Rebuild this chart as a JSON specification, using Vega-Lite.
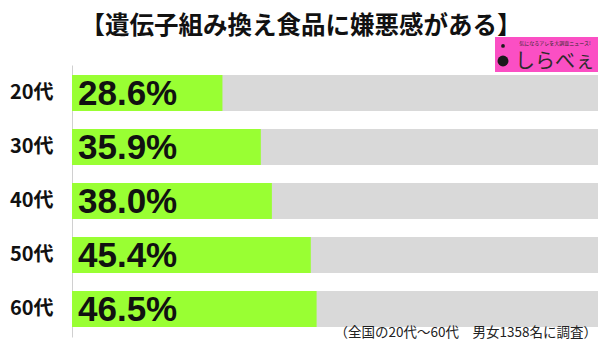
{
  "$schema": "https://vega.github.io/schema/vega-lite/v6.json",
  "width": 526,
  "height": 272,
  "autosize": "none",
  "padding": {"left": 72, "top": 65, "right": 2, "bottom": 6},
  "background": "white",
  "config": {"view": {"stroke": null}},
  "title": {
    "text": "【遺伝子組み換え食品に嫌悪感がある】",
    "font": "Noto Sans CJK JP",
    "fontSize": 24.5,
    "fontWeight": "bold",
    "color": "#111111",
    "anchor": "middle",
    "frame": "group",
    "baseline": "bottom",
    "dx": -34,
    "dy": 26,
    "offset": 0
  },
  "datasets": {
    "survey": [
      {"age": "20代", "value": 0.286},
      {"age": "30代", "value": 0.359},
      {"age": "40代", "value": 0.380},
      {"age": "50代", "value": 0.454},
      {"age": "60代", "value": 0.465}
    ]
  },
  "layer": [
    {
      "data": {"name": "survey"},
      "layer": [
        {
          "mark": {"type": "bar", "color": "#d9d9d9"},
          "encoding": {
            "y": {
              "field": "age", "type": "nominal", "sort": null,
              "scale": {"paddingInner": 0.3333, "paddingOuter": 0.185},
              "axis": {
                "title": null, "ticks": false, "labelPadding": 19,
                "labelFont": "Noto Sans CJK JP", "labelFontSize": 20, "labelFontWeight": "bold",
                "labelColor": "#111111", "domainColor": "#d0d0d0", "domainWidth": 1,
                "labelBaseline": "middle"
              }
            },
            "x": {"datum": 1, "type": "quantitative", "scale": {"domain": [0, 1], "nice": false}, "axis": null}
          }
        },
        {
          "mark": {"type": "bar", "color": "#99ff33"},
          "encoding": {
            "y": {"field": "age", "type": "nominal", "sort": null},
            "x": {"field": "value", "type": "quantitative"}
          }
        },
        {
          "mark": {"type": "text", "align": "left", "baseline": "middle", "dx": 6, "dy": 1, "font": "Liberation Sans", "fontWeight": "bold", "fontSize": 35, "color": "#111111"},
          "encoding": {
            "y": {"field": "age", "type": "nominal", "sort": null},
            "x": {"datum": 0, "type": "quantitative"},
            "text": {"field": "value", "type": "quantitative", "format": ".1%"}
          }
        }
      ]
    },
    {
      "data": {"values": [{"logo": "しらべぇ", "tagline": "気になるアレを大調査ニュース!", "note": "（全国の20代～60代　男女1358名に調査）"}]},
      "layer": [
        {
          "mark": {"type": "rect", "color": "#fb4fc4"},
          "encoding": {
            "x": {"datum": 0.8042, "type": "quantitative"},
            "x2": {"datum": 1},
            "y": {"datum": 0.9743, "type": "quantitative", "scale": {"domain": [0, 1], "nice": false, "zero": false}, "axis": null},
            "y2": {"datum": 1.1029}
          }
        },
        {
          "mark": {"type": "point", "filled": true, "color": "#1a1a1a", "opacity": 1, "size": 120},
          "encoding": {
            "x": {"datum": 0.8194, "type": "quantitative"},
            "y": {"datum": 1.0147, "type": "quantitative"}
          }
        },
        {
          "mark": {"type": "point", "filled": true, "color": "#1a1a1a", "opacity": 1, "size": 14},
          "encoding": {
            "x": {"datum": 0.8194, "type": "quantitative"},
            "y": {"datum": 1.0699, "type": "quantitative"}
          }
        },
        {
          "mark": {"type": "text", "align": "center", "baseline": "middle", "font": "Noto Sans CJK JP", "fontSize": 20, "color": "#2b2b2b"},
          "encoding": {
            "x": {"datum": 0.9183, "type": "quantitative"},
            "y": {"datum": 1.011, "type": "quantitative"},
            "text": {"field": "logo"}
          }
        },
        {
          "mark": {"type": "text", "align": "center", "baseline": "middle", "font": "Noto Sans CJK JP", "fontSize": 5, "color": "#2b2b2b"},
          "encoding": {
            "x": {"datum": 0.9183, "type": "quantitative"},
            "y": {"datum": 1.0809, "type": "quantitative"},
            "text": {"field": "tagline"}
          }
        },
        {
          "mark": {"type": "text", "align": "right", "baseline": "middle", "font": "Noto Sans CJK JP", "fontSize": 13.5, "color": "#222222"},
          "encoding": {
            "x": {"datum": 0.998, "type": "quantitative"},
            "y": {"datum": 0.0147, "type": "quantitative"},
            "text": {"field": "note"}
          }
        }
      ]
    }
  ],
  "resolve": {"scale": {"y": "independent"}}
}
